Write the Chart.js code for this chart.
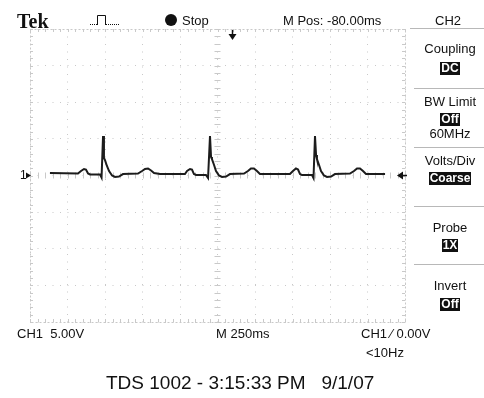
<!DOCTYPE html>
<html>
<head>
<meta charset="utf-8">
<script src="https://cdn.jsdelivr.net/npm/chart.js@4.4.1/dist/chart.umd.min.js"></script>
<style>
  body { margin: 0; background: #fff; }
  #wrap { position: relative; width: 484px; height: 398px; overflow: hidden; }
  #scope { position: absolute; left: 0; top: 0; }
  .t { position: absolute; font-family: "Liberation Sans", Arial, sans-serif; font-size: 13px; line-height: 15px; color: #111; white-space: pre; }
  .menu { left: 412px; width: 76px; text-align: center; }
  .inv { background: #111; color: #fff; padding: 0 1px; font-size: 12px; font-weight: bold; line-height: 13px; display: inline-block; }
</style>
</head>
<body>
<div id="wrap">
  <canvas id="scope" width="484" height="398"></canvas>
  <div class="t" style="left:17px;top:11px;font-family:'Liberation Serif','DejaVu Serif',serif;font-weight:bold;font-size:20px;line-height:20px;">Tek</div>
  <div class="t" style="left:182px;top:13px;">Stop</div>
  <div class="t" style="left:283px;top:13px;">M Pos: -80.00ms</div>
  <div class="t" style="left:435px;top:13px;">CH2</div>

  <div class="t menu" style="top:41px;">Coupling</div>
  <div class="t menu" style="top:60px;"><span class="inv">DC</span></div>
  <div class="t menu" style="top:94px;">BW Limit</div>
  <div class="t menu" style="top:111px;"><span class="inv">Off</span></div>
  <div class="t menu" style="top:126px;">60MHz</div>
  <div class="t menu" style="top:153px;">Volts/Div</div>
  <div class="t menu" style="top:170px;"><span class="inv">Coarse</span></div>
  <div class="t menu" style="top:220px;">Probe</div>
  <div class="t menu" style="top:237px;"><span class="inv">1X</span></div>
  <div class="t menu" style="top:278px;">Invert</div>
  <div class="t menu" style="top:296px;"><span class="inv">Off</span></div>

  <div class="t" style="left:20px;top:168px;font-size:12px;">1</div>

  <div class="t" style="left:17px;top:326px;">CH1  5.00V</div>
  <div class="t" style="left:216px;top:326px;">M 250ms</div>
  <div class="t" style="left:361px;top:326px;">CH1 ⁄ 0.00V</div>
  <div class="t" style="left:366px;top:345px;">&lt;10Hz</div>
  <div class="t" style="left:106px;top:372px;font-size:19px;line-height:22px;">TDS 1002 - 3:15:33 PM   9/1/07</div>
</div>
<script>
// trace: time in ms (250 ms/div), voltage in V (5 V/div)
var tempos = [133, 320, 340, 360, 373, 387, 400, 467, 477, 487, 493, 500, 513, 527, 547, 567, 593, 620,
  720, 747, 767, 787, 807, 827, 867, 1033, 1047, 1067, 1080, 1093, 1107, 1173, 1187, 1200, 1207, 1213,
  1227, 1240, 1260, 1280, 1307, 1333, 1427, 1453, 1473, 1493, 1513, 1533, 1733, 1753, 1773, 1787, 1800,
  1813, 1880, 1890, 1900, 1907, 1913, 1927, 1940, 1960, 1980, 2007, 2033, 2133, 2160, 2180, 2200, 2220,
  2240, 2367];
var volts = [0.34, 0.27, 0.61, 0.89, 0.82, 0.27, 0.14, 0.14, -0.27, 5.4, 2.39, 2.1, 1.3, 0.61, 0.0, -0.2, -0.14, 0.2,
  0.27, 0.61, 0.89, 0.96, 0.68, 0.34, 0.2, 0.2, 0.61, 0.89, 0.82, 0.2, 0.07, 0.07, -0.34, 5.4, 2.53, 2.25,
  1.43, 0.61, 0.0, -0.2, -0.14, 0.2, 0.27, 0.61, 0.96, 0.96, 0.61, 0.2, 0.2, 0.61, 0.96, 0.82, 0.2,
  0.07, 0.07, -0.34, 5.4, 2.8, 2.25, 1.43, 0.61, 0.0, -0.2, -0.14, 0.2, 0.27, 0.61, 0.96, 0.96, 0.61,
  0.2, 0.2];

var tempoMin = 0, tempoMax = 2500, tempoDiv = 250;
var voltMin = -20, voltMax = 20, voltDiv = 5;
var nivelTrigger = 0;
var posTrigger = 1350;

var pontos = [];
for (var i = 0; i < tempos.length; i++) {
  pontos.push({ x: tempos[i], y: volts[i] });
}

var corGrade = '#c9c9c9';

var decoracao = {
  id: 'decoracao',
  beforeDatasetsDraw: function(chart) {
    var ctx = chart.ctx;
    var a = chart.chartArea;
    var sx = chart.scales.x, sy = chart.scales.y;
    var cx = sx.getPixelForValue((tempoMin + tempoMax) / 2);
    var cy = sy.getPixelForValue((voltMin + voltMax) / 2);
    ctx.save();
    ctx.strokeStyle = corGrade;
    ctx.lineWidth = 1;
    ctx.beginPath();
    // minor ticks on centre lines and on the border
    for (var t = tempoMin; t <= tempoMax; t += tempoDiv / 5) {
      var px = Math.round(sx.getPixelForValue(t)) + 0.5;
      ctx.moveTo(px, cy - 3); ctx.lineTo(px, cy + 3);
      ctx.moveTo(px, a.top); ctx.lineTo(px, a.top + 3);
      ctx.moveTo(px, a.bottom); ctx.lineTo(px, a.bottom - 3);
    }
    for (var v = voltMin; v <= voltMax; v += voltDiv / 5) {
      var py = Math.round(sy.getPixelForValue(v)) + 0.5;
      ctx.moveTo(cx - 3, py); ctx.lineTo(cx + 3, py);
      ctx.moveTo(a.left, py); ctx.lineTo(a.left + 3, py);
      ctx.moveTo(a.right, py); ctx.lineTo(a.right - 3, py);
    }
    ctx.stroke();
    ctx.setLineDash([2, 2]);
    ctx.strokeRect(a.left + 0.5, a.top + 0.5, a.right - a.left, a.bottom - a.top);
    ctx.restore();
  },
  afterDraw: function(chart) {
    var ctx = chart.ctx;
    var a = chart.chartArea;
    var sx = chart.scales.x, sy = chart.scales.y;
    ctx.save();
    ctx.fillStyle = '#111';
    ctx.strokeStyle = '#111';
    // ground marker
    var gy = sy.getPixelForValue(0);
    ctx.beginPath();
    ctx.moveTo(26, gy - 3); ctx.lineTo(31, gy); ctx.lineTo(26, gy + 3); ctx.closePath(); ctx.fill();
    // trigger level marker
    var ty = sy.getPixelForValue(nivelTrigger);
    ctx.beginPath();
    ctx.moveTo(a.right - 8, ty); ctx.lineTo(a.right - 2, ty - 4); ctx.lineTo(a.right - 2, ty + 4); ctx.closePath(); ctx.fill();
    ctx.lineWidth = 1.5;
    ctx.beginPath(); ctx.moveTo(a.right - 3, ty); ctx.lineTo(a.right + 2, ty); ctx.stroke();
    // trigger position marker
    var tx = sx.getPixelForValue(posTrigger);
    ctx.beginPath(); ctx.moveTo(tx, a.top + 1); ctx.lineTo(tx, a.top + 6); ctx.stroke();
    ctx.beginPath();
    ctx.moveTo(tx - 4, a.top + 5); ctx.lineTo(tx + 4, a.top + 5); ctx.lineTo(tx, a.top + 11); ctx.closePath(); ctx.fill();
    // stop dot
    ctx.beginPath(); ctx.arc(171, 20, 6, 0, Math.PI * 2); ctx.fill();
    // acquisition icon
    ctx.lineWidth = 1;
    ctx.beginPath();
    ctx.moveTo(97.5, 25); ctx.lineTo(97.5, 15.5); ctx.lineTo(105.5, 15.5); ctx.lineTo(105.5, 25);
    ctx.stroke();
    ctx.setLineDash([1, 1]);
    ctx.beginPath();
    ctx.moveTo(90, 24.5); ctx.lineTo(97, 24.5);
    ctx.moveTo(106, 24.5); ctx.lineTo(120, 24.5);
    ctx.stroke();
    ctx.setLineDash([]);
    // menu separators
    ctx.strokeStyle = '#b8b8b8';
    ctx.beginPath();
    ctx.moveTo(410, 28.5); ctx.lineTo(484, 28.5);
    [88, 147, 206, 264].forEach(function(y) { ctx.moveTo(414, y + 0.5); ctx.lineTo(484, y + 0.5); });
    ctx.stroke();
    ctx.restore();
  }
};

new Chart(document.getElementById('scope'), {
  type: 'line',
  data: {
    datasets: [{
      data: pontos,
      borderColor: '#1c1c1c',
      borderWidth: 2,
      pointRadius: 0,
      tension: 0,
      fill: false
    }]
  },
  options: {
    responsive: false,
    animation: false,
    layout: { padding: { left: 30, right: 79, top: 29, bottom: 76 } },
    plugins: { legend: { display: false }, tooltip: { enabled: false } },
    scales: {
      x: {
        type: 'linear', min: tempoMin, max: tempoMax,
        ticks: { display: false, stepSize: tempoDiv },
        grid: { color: corGrade, drawTicks: false, lineWidth: 1 },
        border: { display: false, dash: [1, 6.5] }
      },
      y: {
        type: 'linear', min: voltMin, max: voltMax,
        ticks: { display: false, stepSize: voltDiv },
        grid: { color: corGrade, drawTicks: false, lineWidth: 1 },
        border: { display: false, dash: [1, 6.5] }
      }
    }
  },
  plugins: [decoracao]
});
</script>
</body>
</html>
